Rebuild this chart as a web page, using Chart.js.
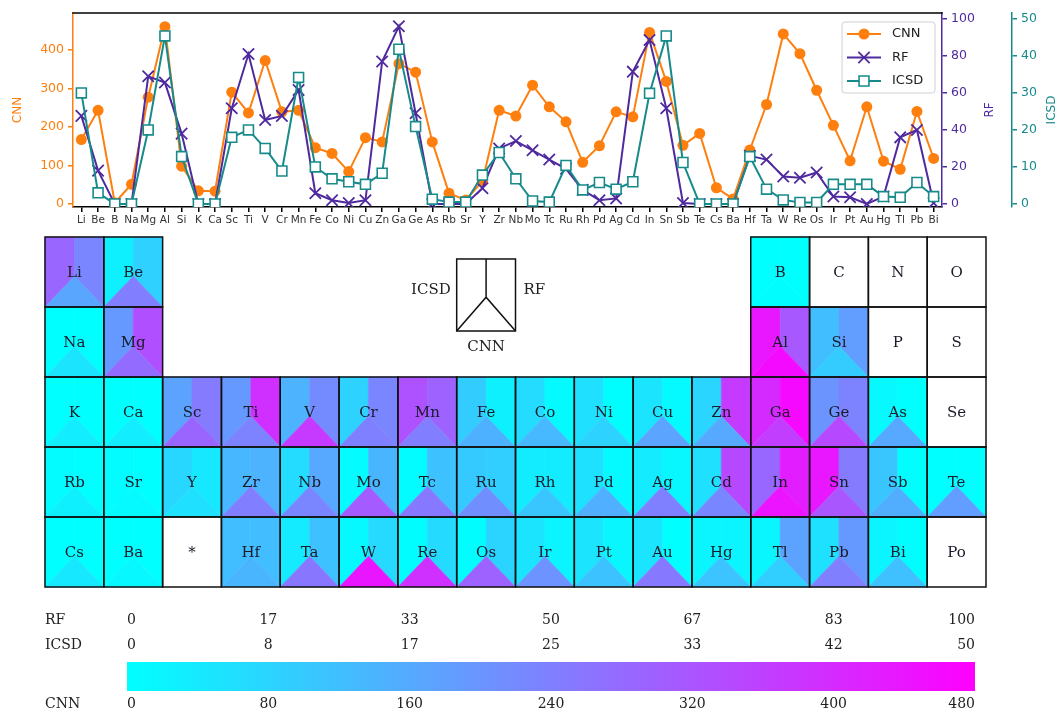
<!DOCTYPE html>
<html>
<head>
<meta charset="utf-8">
<script src="https://cdn.jsdelivr.net/npm/chart.js@4.4.1/dist/chart.umd.min.js"></script>
<style>
  html, body { margin: 0; padding: 0; background: #fff; }
  #wrap { position: relative; width: 1062px; height: 713px; overflow: hidden; }
  canvas { position: absolute; left: 0; }
</style>
</head>
<body>
<div id="wrap">
  <canvas id="lines" width="1062" height="232" style="top:0"></canvas>
  <canvas id="table" width="1062" height="370" style="top:230px"></canvas>
  <canvas id="bar" width="1062" height="113" style="top:600px"></canvas>
</div>
<script>
// ---- data ----
const elements = ['Li','Be','B','Na','Mg','Al','Si','K','Ca','Sc','Ti','V','Cr','Mn','Fe','Co','Ni','Cu','Zn','Ga',
  'Ge','As','Rb','Sr','Y','Zr','Nb','Mo','Tc','Ru','Rh','Pd','Ag','Cd','In','Sn','Sb','Te','Cs','Ba',
  'Hf','Ta','W','Re','Os','Ir','Pt','Au','Hg','Tl','Pb','Bi'];

const cnnValues = [167, 243, 3, 51, 277, 460, 98, 34, 33, 290, 236, 372, 239, 243, 146, 131, 84, 172, 161, 364,
  342, 161, 28, 10, 59, 243, 228, 308, 252, 213, 108, 151, 239, 226, 445, 318, 152, 183, 42, 13,
  140, 258, 441, 390, 295, 204, 112, 252, 111, 90, 240, 118];

const rfValues = [47.6, 18, 0, 0, 69, 65.6, 38, 0, 0, 51.7, 81, 45.4, 47.6, 61.6, 5.8, 2, 0.5, 2, 77, 96,
  49, 0, 0, 0, 8.5, 30, 34, 29, 24, 19, 7.6, 2, 3, 71.5, 88.6, 51.7, 0.5, 0, 0, 0,
  26, 24, 14.8, 14.2, 17, 4, 3.6, 0, 4, 36, 40, 0.5];

const icsdValues = [30, 3, 0, 0, 20, 45.4, 12.8, 0, 0, 18, 20, 15, 8.9, 34.2, 10, 6.8, 6, 5.3, 8.3, 41.8,
  20.9, 1.3, 0.5, 0.5, 7.8, 13.9, 6.8, 0.8, 0.5, 10.4, 3.8, 5.8, 4, 6, 29.9, 45.4, 11.2, 0, 0, 0,
  12.8, 4, 1.1, 0.4, 0.4, 5.3, 5.3, 5.3, 2, 1.8, 5.8, 2];

// axis ticks of the line chart
const cnnTicks = [0, 100, 200, 300, 400];
const rfTicks = [0, 20, 40, 60, 80, 100];
const icsdTicks = [0, 10, 20, 30, 40, 50];

// colour scale limits and colour-bar ticks
const cnnMax = 480, rfMax = 100, icsdMax = 50;
const rfBarTicks = [0, 16.667, 33.333, 50, 66.667, 83.333, 100];
const icsdBarTicks = [0, 8.333, 16.667, 25, 33.333, 41.667, 50];
const cnnBarTicks = [0, 80, 160, 240, 320, 400, 480];

// periodic-table layout (null = empty slot)
const tableRows = [
  ['Li','Be',null,null,null,null,null,null,null,null,null,null,'B','C','N','O'],
  ['Na','Mg',null,null,null,null,null,null,null,null,null,null,'Al','Si','P','S'],
  ['K','Ca','Sc','Ti','V','Cr','Mn','Fe','Co','Ni','Cu','Zn','Ga','Ge','As','Se'],
  ['Rb','Sr','Y','Zr','Nb','Mo','Tc','Ru','Rh','Pd','Ag','Cd','In','Sn','Sb','Te'],
  ['Cs','Ba','*','Hf','Ta','W','Re','Os','Ir','Pt','Au','Hg','Tl','Pb','Bi','Po']
];

// ---- styling ----
const ORANGE = '#ff7f0e', PURPLE = '#4f2a9e', TEAL = '#178a8a';
const SANS = "'DejaVu Sans', sans-serif";
const SERIF = "'DejaVu Serif', serif";
const APEX = 0.56; // height of the split point inside a cell

// matplotlib "cool" colormap
function cool(t) {
  t = Math.max(0, Math.min(1, t));
  return `rgb(${Math.round(255 * t)},${Math.round(255 * (1 - t))},255)`;
}

function valueAxis(position, color, min, max, ticks, width, weight) {
  return {
    type: 'linear', position, min, max, weight,
    afterBuildTicks(s) { s.ticks = ticks.map(v => ({ value: v })); },
    afterFit(s) { s.width = width; },
    grid: { display: true, drawOnChartArea: false, drawTicks: true, tickLength: 5, color, lineWidth: 1.5 },
    border: { display: true, color, width: 1.5 },
    ticks: { color, padding: 4, font: { family: SANS, size: 12.5 } }
  };
}

// top frame line, right-hand axis titles and the in-plot legend
const framePlugin = {
  id: 'frame',
  afterDraw(chart) {
    const ctx = chart.ctx, a = chart.chartArea;
    ctx.save();
    ctx.strokeStyle = '#000';
    ctx.lineWidth = 1.5;
    ctx.beginPath();
    ctx.moveTo(a.left - 0.75, a.top);
    ctx.lineTo(a.right + 0.75, a.top);
    ctx.stroke();

    // rotated titles for the right axes
    const titles = [['yRf', 'RF', PURPLE, 48], ['yIcsd', 'ICSD', TEAL, 40]];
    ctx.font = `12px ${SANS}`;
    ctx.textAlign = 'center';
    ctx.textBaseline = 'middle';
    titles.forEach(([id, text, color, dx]) => {
      const s = chart.scales[id];
      ctx.save();
      ctx.translate(s.left + dx, (a.top + a.bottom) / 2);
      ctx.rotate(-Math.PI / 2);
      ctx.fillStyle = color;
      ctx.fillText(text, 0, 0);
      ctx.restore();
    });

    // legend
    const bx = a.right - 100, by = a.top + 9, bw = 93, bh = 71, r = 3;
    ctx.beginPath();
    ctx.moveTo(bx + r, by);
    ctx.arcTo(bx + bw, by, bx + bw, by + bh, r);
    ctx.arcTo(bx + bw, by + bh, bx, by + bh, r);
    ctx.arcTo(bx, by + bh, bx, by, r);
    ctx.arcTo(bx, by, bx + bw, by, r);
    ctx.closePath();
    ctx.fillStyle = 'rgba(255,255,255,0.85)';
    ctx.fill();
    ctx.strokeStyle = '#d0d0d0';
    ctx.lineWidth = 1;
    ctx.stroke();

    chart.data.datasets.forEach((ds, i) => {
      const y = by + 12 + i * 23.5;
      const mx = bx + 22;
      ctx.strokeStyle = ds.borderColor;
      ctx.lineWidth = 2;
      ctx.beginPath();
      ctx.moveTo(bx + 5, y);
      ctx.lineTo(bx + 39, y);
      ctx.stroke();
      drawMarker(ctx, ds, mx, y);
      ctx.fillStyle = '#222';
      ctx.font = `13px ${SANS}`;
      ctx.textAlign = 'left';
      ctx.textBaseline = 'middle';
      ctx.fillText(ds.label, bx + 50, y);
    });
    ctx.restore();
  }
};

function drawMarker(ctx, ds, x, y) {
  const r = ds.pointRadius;
  ctx.save();
  ctx.lineWidth = ds.pointBorderWidth;
  ctx.strokeStyle = ds.pointBorderColor;
  ctx.fillStyle = ds.pointBackgroundColor;
  ctx.beginPath();
  if (ds.pointStyle === 'circle') {
    ctx.arc(x, y, r, 0, Math.PI * 2);
    ctx.fill();
  } else if (ds.pointStyle === 'crossRot') {
    const d = r * Math.SQRT1_2;
    ctx.moveTo(x - d, y - d); ctx.lineTo(x + d, y + d);
    ctx.moveTo(x - d, y + d); ctx.lineTo(x + d, y - d);
    ctx.stroke();
  } else {
    const d = r * Math.SQRT1_2;
    ctx.rect(x - d, y - d, 2 * d, 2 * d);
    ctx.fill();
    ctx.stroke();
  }
  ctx.restore();
}

new Chart(document.getElementById('lines'), {
  type: 'line',
  data: {
    labels: elements,
    datasets: [
      { label: 'CNN', data: cnnValues, yAxisID: 'yCnn', order: 3,
        borderColor: ORANGE, backgroundColor: ORANGE, borderWidth: 2,
        pointStyle: 'circle', pointRadius: 5.5, pointBorderWidth: 0,
        pointBackgroundColor: ORANGE, pointBorderColor: ORANGE },
      { label: 'RF', data: rfValues, yAxisID: 'yRf', order: 2,
        borderColor: PURPLE, backgroundColor: PURPLE, borderWidth: 2,
        pointStyle: 'crossRot', pointRadius: 8, pointBorderWidth: 1.8,
        pointBackgroundColor: PURPLE, pointBorderColor: PURPLE },
      { label: 'ICSD', data: icsdValues, yAxisID: 'yIcsd', order: 1,
        borderColor: TEAL, backgroundColor: TEAL, borderWidth: 2,
        pointStyle: 'rect', pointRadius: 7, pointBorderWidth: 1.6,
        pointBackgroundColor: '#ffffff', pointBorderColor: TEAL }
    ]
  },
  options: {
    responsive: false,
    animation: false,
    events: [],
    layout: { padding: { top: 13, left: 0, right: 0, bottom: 0 } },
    plugins: { legend: { display: false }, tooltip: { enabled: false } },
    scales: {
      x: {
        type: 'category', offset: true,
        afterFit(s) { s.height = 25; },
        grid: { display: true, drawOnChartArea: false, drawTicks: true, tickLength: 5, color: '#000', lineWidth: 1.5 },
        border: { display: true, color: '#000', width: 1.5 },
        ticks: { autoSkip: false, maxRotation: 0, minRotation: 0, padding: 2, color: '#333',
                 font: { family: SANS, size: 10.5 } }
      },
      yCnn: Object.assign(valueAxis('left', ORANGE, -7.92, 495.4, cnnTicks, 73, 0), {
        title: { display: true, text: 'CNN', color: ORANGE, font: { family: SANS, size: 12 },
                 padding: { top: 11, bottom: 0 } }
      }),
      yRf: valueAxis('right', PURPLE, -1.65, 103.2, rfTicks, 70, 0),
      yIcsd: valueAxis('right', TEAL, -0.825, 51.6, icsdTicks, 50, 1)
    }
  },
  plugins: [framePlugin]
});

// ---- periodic table: each cell split into ICSD (left), RF (right), CNN (bottom) ----
const tablePlugin = {
  id: 'cells',
  afterDraw(chart) {
    const ctx = chart.ctx, xs = chart.scales.x, ys = chart.scales.y;
    ctx.save();
    const poly = (pts, color) => {
      ctx.beginPath();
      ctx.moveTo(pts[0][0], pts[0][1]);
      for (let k = 1; k < pts.length; k++) ctx.lineTo(pts[k][0], pts[k][1]);
      ctx.closePath();
      ctx.fillStyle = color;
      ctx.fill();
      ctx.strokeStyle = color;
      ctx.lineWidth = 0.6;
      ctx.stroke();
    };
    const cells = [];
    tableRows.forEach((row, r) => row.forEach((sym, c) => {
      if (!sym) return;
      const x0 = xs.getPixelForValue(c), x1 = xs.getPixelForValue(c + 1);
      const y0 = ys.getPixelForValue(r), y1 = ys.getPixelForValue(r + 1);
      const xm = (x0 + x1) / 2, ya = y0 + (y1 - y0) * APEX;
      const i = elements.indexOf(sym);
      if (i >= 0) {
        poly([[x0, y0], [xm, y0], [xm, ya], [x0, y1]], cool(icsdValues[i] / icsdMax));
        poly([[xm, y0], [x1, y0], [x1, y1], [xm, ya]], cool(rfValues[i] / rfMax));
        poly([[x0, y1], [xm, ya], [x1, y1]], cool(cnnValues[i] / cnnMax));
      } else {
        ctx.fillStyle = '#fff';
        ctx.fillRect(x0, y0, x1 - x0, y1 - y0);
      }
      cells.push({ sym, x0, x1, y0, y1 });
    }));
    ctx.strokeStyle = '#111';
    ctx.lineWidth = 1.5;
    cells.forEach(c => ctx.strokeRect(c.x0, c.y0, c.x1 - c.x0, c.y1 - c.y0));
    ctx.fillStyle = '#1a1a2a';
    ctx.font = `15px ${SERIF}`;
    ctx.textAlign = 'center';
    ctx.textBaseline = 'middle';
    cells.forEach(c => ctx.fillText(c.sym, (c.x0 + c.x1) / 2, c.y0 + (c.y1 - c.y0) * 0.52));

    // key glyph
    const kx0 = xs.getPixelForValue(7), kx1 = xs.getPixelForValue(8);
    const ky0 = ys.getPixelForValue(0.314), ky1 = ys.getPixelForValue(1.343);
    const kxm = (kx0 + kx1) / 2, kya = ky0 + (ky1 - ky0) * 0.53;
    ctx.strokeStyle = '#111';
    ctx.lineWidth = 1.5;
    ctx.strokeRect(kx0, ky0, kx1 - kx0, ky1 - ky0);
    ctx.beginPath();
    ctx.moveTo(kxm, ky0); ctx.lineTo(kxm, kya);
    ctx.moveTo(kx0, ky1); ctx.lineTo(kxm, kya); ctx.lineTo(kx1, ky1);
    ctx.stroke();
    ctx.fillStyle = '#222';
    const ly = ys.getPixelForValue(0.757);
    ctx.textAlign = 'right';
    ctx.fillText('ICSD', kx0 - 6, ly);
    ctx.textAlign = 'left';
    ctx.fillText('RF', kx1 + 8, ly);
    ctx.textAlign = 'center';
    ctx.fillText('CNN', kxm, ys.getPixelForValue(1.571));
    ctx.restore();
  }
};

new Chart(document.getElementById('table'), {
  type: 'scatter',
  data: { datasets: [] },
  options: {
    responsive: false, animation: false, events: [],
    layout: { padding: { left: 45, right: 76, top: 7, bottom: 13 } },
    plugins: { legend: { display: false }, tooltip: { enabled: false } },
    scales: {
      x: { type: 'linear', min: 0, max: 16, display: false },
      y: { type: 'linear', min: 0, max: 5, reverse: true, display: false }
    }
  },
  plugins: [tablePlugin]
});

// ---- colour bar with three parallel scales ----
function barAxis(position, weight, max, ticks, padding, height) {
  return {
    type: 'linear', axis: 'x', position, weight, min: 0, max,
    afterBuildTicks(s) { s.ticks = ticks.map(v => ({ value: v })); },
    afterFit(s) { s.height = height; },
    grid: { display: false, drawTicks: false },
    border: { display: false },
    ticks: { align: 'inner', padding, autoSkip: false, maxRotation: 0, color: '#222',
             font: { family: SERIF, size: 14 }, callback: v => String(Math.round(v)) }
  };
}

const barPlugin = {
  id: 'colorbar',
  beforeDatasetsDraw(chart) {
    const ctx = chart.ctx, a = chart.chartArea, s = chart.scales.cnn;
    const x0 = s.getPixelForValue(0), x1 = s.getPixelForValue(cnnMax);
    const g = ctx.createLinearGradient(x0, 0, x1, 0);
    g.addColorStop(0, cool(0));
    g.addColorStop(1, cool(1));
    ctx.save();
    ctx.fillStyle = g;
    ctx.fillRect(x0, a.top, x1 - x0, a.bottom - a.top);
    ctx.restore();
  },
  afterDraw(chart) {
    const ctx = chart.ctx;
    const half = 14 * 1.2 / 2;
    ctx.save();
    ctx.fillStyle = '#222';
    ctx.font = `14px ${SERIF}`;
    ctx.textAlign = 'left';
    ctx.textBaseline = 'middle';
    [['rf', 'RF'], ['icsd', 'ICSD'], ['cnn', 'CNN']].forEach(([id, text]) => {
      const s = chart.scales[id];
      const p = s.options.ticks.padding;
      const y = s.options.position === 'top' ? s.bottom - p - half : s.top + p + half;
      ctx.fillText(text, 45, y);
    });
    ctx.restore();
  }
};

new Chart(document.getElementById('bar'), {
  type: 'scatter',
  data: { datasets: [] },
  options: {
    responsive: false, animation: false, events: [],
    layout: { padding: { left: 127, right: 87, top: 12, bottom: 0 } },
    plugins: { legend: { display: false }, tooltip: { enabled: false } },
    scales: {
      rf: barAxis('top', 2, rfMax, rfBarTicks, 8, 25),
      icsd: barAxis('top', 1, icsdMax, icsdBarTicks, 8, 25),
      cnn: barAxis('bottom', 1, cnnMax, cnnBarTicks, 5, 22),
      y: { type: 'linear', min: 0, max: 1, display: false }
    }
  },
  plugins: [barPlugin]
});
</script>
</body>
</html>
